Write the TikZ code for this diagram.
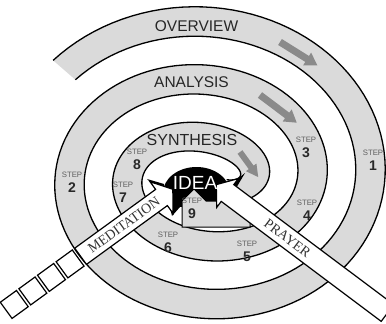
\documentclass[tikz,border=0pt]{standalone}
\usepackage{fontspec}
\setmainfont{Liberation Sans}
\newfontfamily\arrowfont{Liberation Serif}
\definecolor{bandgray}{RGB}{218,218,218}
\definecolor{arrowgray}{RGB}{138,138,138}
\definecolor{stepgray}{RGB}{95,95,95}
\definecolor{numgray}{RGB}{40,40,40}
\newcommand\GrayArr[6]{%
 \begin{scope}[shift={(#1,#2)},rotate=#3]
 \fill[arrowgray] (0,-#5) -- ({#4-12},-#5) -- ({#4-12},-#6) -- (#4,0) -- ({#4-12},#6) -- ({#4-12},#5) -- (0,#5) -- cycle;
 \end{scope}}
\newcommand\StepLbl[3]{%
 \node[steptxt] (s#1) at (#2,#3) {STEP};
 \node[stepnum] (n#1) at (#2,#3+13) {#1};}
\begin{document}
\begin{tikzpicture}[x=1pt,y=-1pt,
 steptxt/.style={font=\fontsize{7.8}{8}\selectfont, text=stepgray, inner sep=0pt},
 stepnum/.style={font=\fontsize{14}{15}\selectfont\bfseries, text=numgray, inner sep=0pt},
 edge/.style={line width=1.3pt, black},
 wbox/.style={fill=white, draw=black, line width=1.2pt, line join=miter},
 title/.style={font=\fontsize{15.5}{16}\selectfont, text=black!85, inner sep=0pt},
 arrtxt/.style={font=\arrowfont\fontsize{14}{15}\selectfont, text=black!80, inner sep=0pt}]
\useasboundingbox (0,0) rectangle (386,324);
\fill[white] (0,0) rectangle (386,324);
\clip (0,0) rectangle (386,324);
\def\cx{205.5}\def\cy{177.25}\def\rr{170.25}\def\qq{14.5}\def\dd{23.75}\def\ww{29.5}
\def\pa{-49}\def\pb{850}
% spiral band
\fill[bandgray] plot[domain=\pa:\pb,samples=300,variable=\t]
  ({\cx+(\rr-\qq*\t/90+\dd)*sin(\t)},{\cy-(\rr-\qq*\t/90)*cos(\t)})
  -- plot[domain=\pb:\pa,samples=300,variable=\t]
  ({\cx+(\rr-\ww-\qq*\t/90+\dd)*sin(\t)},{\cy-(\rr-\ww-\qq*\t/90)*cos(\t)}) -- cycle;
\draw[edge] plot[domain=\pa:\pb,samples=300,variable=\t]
  ({\cx+(\rr-\qq*\t/90+\dd)*sin(\t)},{\cy-(\rr-\qq*\t/90)*cos(\t)});
\draw[edge] plot[domain=\pa:\pb,samples=300,variable=\t]
  ({\cx+(\rr-\ww-\qq*\t/90+\dd)*sin(\t)},{\cy-(\rr-\ww-\qq*\t/90)*cos(\t)});
% gray direction arrows
\GrayArr{280}{42}{-32}{44}{3.5}{7.5}
\GrayArr{260}{95}{-37}{46}{3.5}{7.5}
\GrayArr{240}{152}{-54}{31}{3}{6.5}
% titles
\node[title] (ov) at (196.5,26) {OVERVIEW};
\node[title] (an) at (191.5,82) {ANALYSIS};
\node[title, font=\fontsize{16}{17}\selectfont] (sy) at (192,140) {SYNTHESIS};
% step labels
\StepLbl{1}{373}{153}
\StepLbl{2}{72}{175}
\StepLbl{3}{306}{140}
\StepLbl{4}{307}{203}
\StepLbl{5}{247}{244}
\StepLbl{6}{168}{235}
\StepLbl{7}{123}{185}
\StepLbl{8}{137}{152}
% idea blob
\fill[black] (163,193) arc[start angle=180,end angle=0,x radius=33.5pt,y radius=26pt]
  -- (236,200) -- (244,214) -- (228,207) -- (215,214) -- (205,205) -- (180,207) -- (172,216) -- (168,200) -- cycle;
\fill[black] (164,184) -- (147,179) -- (164,194) -- cycle;
\fill[black] (229,186) -- (245,173) -- (232,195) -- cycle;
% step 9 house
\filldraw[fill=bandgray, draw=black, line width=1pt] (182,227) -- (182,201) -- (194,189) -- (206,201) -- (250,201) -- (250,227) -- cycle;
\StepLbl{9}{192}{201}
% meditation arrow
\begin{scope}[shift={(161.5,197.5)},rotate=36]
 \draw[wbox] (-100,-10) -- (0,-10) -- (0,-19.5) -- (14,0) -- (0,19.5) -- (0,10) -- (-100,10) -- cycle;
 \draw[wbox] (-123,-10) rectangle (-103,10);
 \draw[wbox] (-146,-10) rectangle (-126,10);
 \draw[wbox] (-169,-10) rectangle (-149,10);
 \draw[wbox] (-192,-10) rectangle (-172,10);
\end{scope}
% prayer arrow
\begin{scope}[shift={(227.5,193)},rotate=143.13]
 \draw[wbox] (-200,-10.5) -- (0,-10.5) -- (0,-18) -- (14,0) -- (0,18) -- (0,10.5) -- (-200,10.5) -- cycle;
\end{scope}
\node[font=\fontsize{19}{20}\selectfont, text=white, inner sep=0pt] (idea) at (195,182.5) {IDEA};
\node[arrtxt, rotate=36] (med) at (124,225) {MEDITATION};
\node[arrtxt, rotate=-37] (pra) at (287.5,238) {PRAYER};
\end{tikzpicture}
\end{document}
